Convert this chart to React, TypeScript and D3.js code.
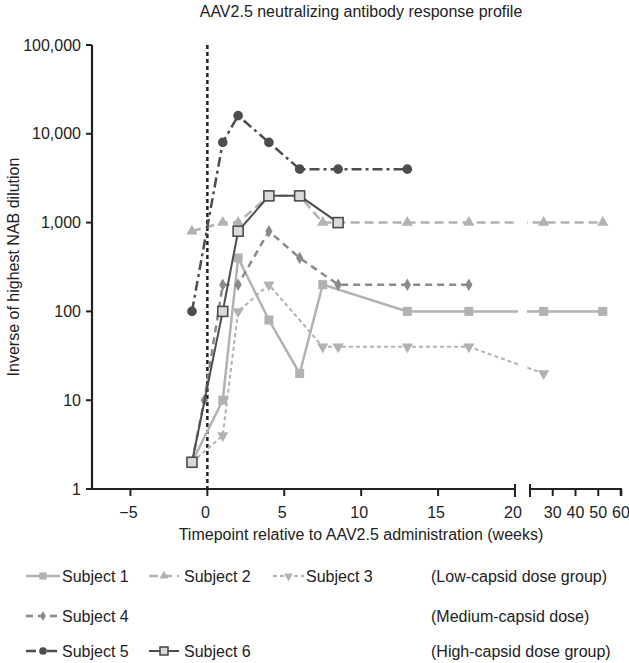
import React from "react";
import * as d3 from "d3";

const yTicks = [1, 10, 100, 1000, 10000, 100000];
const xTicksA = [-5, 0, 5, 10, 15, 20];
const xTicksB = [30, 40, 50, 60];

const subject1Weeks = [-1, 1, 2, 4, 6, 7.5, 13, 17, 26, 52];
const subject1Values = [2, 10, 400, 80, 20, 200, 100, 100, 100, 100];
const subject2Weeks = [-1, 1, 2, 4, 6, 7.5, 13, 17, 26, 52];
const subject2Values = [800, 1000, 1000, 2000, 2000, 1000, 1000, 1000, 1000, 1000];
const subject3Weeks = [-1, 1, 2, 4, 7.5, 8.5, 13, 17, 26];
const subject3Values = [2, 4, 100, 200, 40, 40, 40, 40, 20];
const subject4Weeks = [-1, -0.2, 1, 2, 4, 6, 8.5, 13, 17];
const subject4Values = [2, 10, 200, 200, 800, 400, 200, 200, 200];
const subject5Weeks = [-1, 1, 2, 4, 6, 8.5, 13];
const subject5Values = [100, 8000, 16000, 8000, 4000, 4000, 4000];
const subject6Weeks = [-1, 1, 2, 4, 6, 8.5];
const subject6Values = [2, 100, 800, 2000, 2000, 1000];

const LIGHT = "#b2b2b2";
const MID = "#8a8a8a";
const DARK = "#4d4d4d";
const FONT = "'Liberation Sans', Arial, sans-serif";
const FS = 16;

type Series = {
  name: string;
  weeks: number[];
  values: number[];
  color: string;
  width: number;
  dash: string;
  marker: string;
};

const series: Series[] = [
  { name: "Subject 1", weeks: subject1Weeks, values: subject1Values, color: LIGHT, width: 2.5, dash: "", marker: "square" },
  { name: "Subject 2", weeks: subject2Weeks, values: subject2Values, color: LIGHT, width: 2.5, dash: "9,5", marker: "triUp" },
  { name: "Subject 3", weeks: subject3Weeks, values: subject3Values, color: LIGHT, width: 2, dash: "4,3", marker: "triDown" },
  { name: "Subject 4", weeks: subject4Weeks, values: subject4Values, color: MID, width: 2.5, dash: "7,5", marker: "diamond" },
  { name: "Subject 5", weeks: subject5Weeks, values: subject5Values, color: DARK, width: 2.5, dash: "10,4,3,4", marker: "circle" },
  { name: "Subject 6", weeks: subject6Weeks, values: subject6Values, color: DARK, width: 2, dash: "", marker: "openSquare" },
];

const y = d3.scaleLog().domain([1, 100000]).range([489, 45]);
const xA = d3.scaleLinear().domain([-7.5, 20]).range([92, 515]);
const xB = d3.scaleLinear().domain([20, 60]).range([530, 621]);
const xPos = (w: number) => (w <= 20 ? xA(w) : xB(w));

function Marker({ kind, cx, cy, color, s = 1 }: { kind: string; cx: number; cy: number; color: string; s?: number }) {
  if (kind === "square") return <rect x={cx - 4.5 * s} y={cy - 4.5 * s} width={9 * s} height={9 * s} fill={color} />;
  if (kind === "openSquare")
    return (
      <rect x={cx - 5 * s} y={cy - 5 * s} width={10 * s} height={10 * s} fill="#dadada" stroke={DARK} strokeWidth={1.6} />
    );
  if (kind === "circle") return <circle cx={cx} cy={cy} r={4.8 * s} fill={color} />;
  const sym =
    kind === "diamond" ? d3.symbol(d3.symbolDiamond, 45 * s * s) : d3.symbol(d3.symbolTriangle, 55 * s * s);
  const rot = kind === "triDown" ? 180 : 0;
  return <path d={sym() as string} transform={`translate(${cx},${cy}) rotate(${rot})`} fill={color} />;
}

export default function App() {
  const line = d3
    .line<[number, number]>()
    .x((d) => xPos(d[0]))
    .y((d) => y(d[1]));

  const legendRows = [
    { y: 576, items: [0, 1, 2], group: "(Low-capsid dose group)" },
    { y: 616, items: [3], group: "(Medium-capsid dose)" },
    { y: 651, items: [4, 5], group: "(High-capsid dose group)" },
  ];
  const legendX = [[26, 60, 62], [149, 179, 184], [273, 304, 306]];

  return (
    <svg
      width={629}
      height={663}
      style={{ position: "absolute", left: 0, top: 0, background: "#fff" }}
      fontFamily={FONT}
    >
      <defs>
        <mask id="gapMask" maskUnits="userSpaceOnUse" x={0} y={0} width={629} height={663}>
          <rect x={0} y={0} width={629} height={663} fill="#fff" />
          <rect x={518} y={0} width={9} height={663} fill="#000" />
        </mask>
      </defs>
      <rect width={629} height={663} fill="#fff" />

      <text x={361} y={17} textAnchor="middle" fontSize={FS} fill="#222">
        AAV2.5 neutralizing antibody response profile
      </text>

      {/* y axis */}
      <line x1={92} x2={92} y1={y(100000)} y2={y(1) + 1} stroke="#222" strokeWidth={2.2} />
      {yTicks.map((t) => (
        <g key={t}>
          <line x1={86} x2={92} y1={y(t)} y2={y(t)} stroke="#222" strokeWidth={2} />
          <text x={81} y={y(t)} dy="0.35em" textAnchor="end" fontSize={FS} fill="#222">
            {d3.format(",")(t)}
          </text>
        </g>
      ))}
      <text
        transform={`translate(19,${(y(1) + y(100000)) / 2}) rotate(-90)`}
        textAnchor="middle"
        fontSize={FS}
        fill="#222"
      >
        Inverse of highest NAB dilution
      </text>

      {/* x axis */}
      <line x1={91} x2={xA(20)} y1={489} y2={489} stroke="#222" strokeWidth={2.2} />
      <line x1={xA(20)} x2={xA(20)} y1={484} y2={497} stroke="#222" strokeWidth={2} />
      {xTicksA.map((t) => (
        <g key={t}>
          <line x1={xA(t)} x2={xA(t)} y1={489} y2={496} stroke="#222" strokeWidth={2} />
          <text x={xA(t) - 2} y={518} textAnchor="middle" fontSize={FS} fill="#222">
            {t < 0 ? `\u2212${Math.abs(t)}` : t}
          </text>
        </g>
      ))}
      <line x1={530} x2={xB(60) + 1} y1={489} y2={489} stroke="#222" strokeWidth={2.2} />
      <line x1={530} x2={530} y1={484} y2={497} stroke="#222" strokeWidth={2} />
      {xTicksB.map((t) => (
        <g key={t}>
          <line x1={xB(t)} x2={xB(t)} y1={489} y2={496} stroke="#222" strokeWidth={t === 60 ? 2.6 : 2} />
          <text x={xB(t)} y={518} textAnchor="middle" fontSize={FS} fill="#222">
            {t}
          </text>
        </g>
      ))}
      <text x={361} y={540} textAnchor="middle" fontSize={FS} fill="#222">
        Timepoint relative to AAV2.5 administration (weeks)
      </text>

      {/* week 0 reference line */}
      <line x1={xA(0)} x2={xA(0)} y1={y(100000)} y2={489} stroke="#222" strokeWidth={2.5} strokeDasharray="4,3" />

      {/* series */}
      {series.map((s) => {
        const pts = s.weeks.map((w, i) => [w, s.values[i]] as [number, number]);
        return (
          <g key={s.name}>
            <path
              d={line(pts) as string}
              fill="none"
              stroke={s.color}
              strokeWidth={s.width}
              strokeDasharray={s.dash || undefined}
              mask="url(#gapMask)"
            />
            {pts.map((p, i) => (
              <Marker key={i} kind={s.marker} cx={xPos(p[0])} cy={y(p[1])} color={s.color} />
            ))}
          </g>
        );
      })}

      {/* legend */}
      {legendRows.map((r) => (
        <g key={r.group}>
          {r.items.map((idx, j) => {
            const s = series[idx];
            const [x0, x1, tx] = legendX[j];
            return (
              <g key={s.name}>
                <line
                  x1={x0}
                  x2={x1}
                  y1={r.y}
                  y2={r.y}
                  stroke={s.color}
                  strokeWidth={s.width}
                  strokeDasharray={s.dash || undefined}
                />
                <Marker kind={s.marker} cx={(x0 + x1) / 2} cy={r.y} color={s.color} s={0.8} />
                <text x={tx} y={r.y} dy="0.35em" fontSize={FS} fill="#222">
                  {s.name}
                </text>
              </g>
            );
          })}
          <text x={431} y={r.y} dy="0.35em" fontSize={FS} fill="#222">
            {r.group}
          </text>
        </g>
      ))}
    </svg>
  );
}
